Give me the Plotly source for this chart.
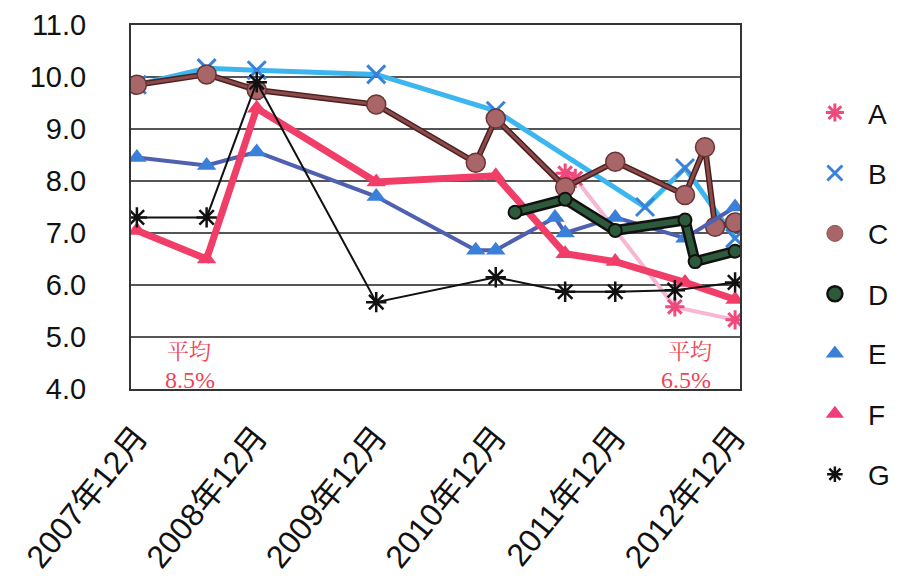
import plotly.graph_objects as go

# ---- data ----
tick_dates = ["2007-12-31", "2008-12-31", "2009-12-31", "2010-12-31", "2011-12-31", "2012-12-31"]
tick_labels = ["2007年12月", "2008年12月", "2009年12月", "2010年12月", "2011年12月", "2012年12月"]

a_x = ["2011-07-31", "2011-08-31", "2012-06-30", "2012-12-31"]
a_y = [8.15, 8.05, 5.58, 5.33]

b_x = ["2007-12-31", "2008-07-31", "2008-12-31", "2009-12-31", "2010-12-31", "2012-03-31", "2012-07-31", "2012-12-31"]
b_y = [9.85, 10.17, 10.13, 10.05, 9.35, 7.5, 8.25, 6.9]

c_x = ["2007-12-31", "2008-07-31", "2008-12-31", "2009-12-31", "2010-10-31", "2010-12-31",
       "2011-07-31", "2011-12-31", "2012-07-31", "2012-09-30", "2012-10-31", "2012-12-31"]
c_y = [9.85, 10.05, 9.75, 9.47, 8.35, 9.2, 7.88, 8.37, 7.73, 8.65, 7.12, 7.2]

d_x = ["2011-02-28", "2011-07-31", "2011-12-31", "2012-07-31", "2012-08-31", "2012-12-31"]
d_y = [7.4, 7.65, 7.05, 7.25, 6.45, 6.65]

e_x = ["2007-12-31", "2008-07-31", "2008-12-31", "2009-12-31", "2010-10-31", "2010-12-31",
       "2011-06-30", "2011-07-31", "2011-12-31", "2012-07-31", "2012-12-31"]
e_y = [8.45, 8.3, 8.56, 7.7, 6.67, 6.67, 7.3, 7.0, 7.3, 6.9, 7.5]

f_x = ["2007-12-31", "2008-07-31", "2008-12-31", "2009-12-31", "2010-12-31", "2011-07-31",
       "2011-12-31", "2012-07-31", "2012-12-31"]
f_y = [7.05, 6.5, 9.4, 7.98, 8.1, 6.6, 6.45, 6.05, 5.72]

g_x = ["2007-12-31", "2008-07-31", "2008-12-31", "2009-12-31", "2010-12-31", "2011-07-31",
       "2011-12-31", "2012-06-30", "2012-12-31"]
g_y = [7.3, 7.3, 9.9, 5.67, 6.15, 5.87, 5.87, 5.9, 6.05]

series_names = ["A", "B", "C", "D", "E", "F", "G"]

fig = go.Figure()

# ---- series (lines + markers, legend shown via marker-only entries below) ----
fig.add_trace(go.Scatter(x=a_x, y=a_y, mode="lines+markers", showlegend=False,
                         line=dict(color="#f7b6d2", width=4),
                         marker=dict(symbol="asterisk-open", size=16, color="#f04a7c",
                                     line=dict(color="#f04a7c", width=3))))
fig.add_trace(go.Scatter(x=b_x, y=b_y, mode="lines+markers", showlegend=False,
                         line=dict(color="#3db6f0", width=5),
                         marker=dict(symbol="x-thin-open", size=18, color="#3a82d8",
                                     line=dict(color="#3a82d8", width=3))))
fig.add_trace(go.Scatter(x=c_x, y=c_y, mode="lines", showlegend=False,
                         line=dict(color="#4a2020", width=6)))
fig.add_trace(go.Scatter(x=c_x, y=c_y, mode="lines+markers", showlegend=False,
                         line=dict(color="#8c4a4a", width=3),
                         marker=dict(symbol="circle", size=19, color="#a86668",
                                     line=dict(color="#6a3434", width=1.5))))
fig.add_trace(go.Scatter(x=e_x, y=e_y, mode="lines+markers", showlegend=False,
                         line=dict(color="#5060b0", width=4),
                         marker=dict(symbol="triangle-up", size=17, color="#3a80d8")))
fig.add_trace(go.Scatter(x=f_x, y=f_y, mode="lines+markers", showlegend=False,
                         line=dict(color="#f03e68", width=7),
                         marker=dict(symbol="triangle-up", size=17, color="#f03e68")))
fig.add_trace(go.Scatter(x=d_x, y=d_y, mode="lines", showlegend=False,
                         line=dict(color="#111111", width=11)))
fig.add_trace(go.Scatter(x=d_x, y=d_y, mode="lines+markers", showlegend=False,
                         line=dict(color="#2e5a3c", width=6),
                         marker=dict(symbol="circle", size=13, color="#2e5a3c",
                                     line=dict(color="#111111", width=2))))
fig.add_trace(go.Scatter(x=g_x, y=g_y, mode="lines+markers", showlegend=False,
                         line=dict(color="#111111", width=2),
                         marker=dict(symbol="asterisk-open", size=17, color="#111111",
                                     line=dict(color="#111111", width=2.5))))

# ---- legend entries (markers only), split over two legends ----
legend_markers = [
    dict(symbol="asterisk-open", size=15, color="#f04a7c", line=dict(color="#f04a7c", width=3)),
    dict(symbol="x-thin-open", size=15, color="#3a82d8", line=dict(color="#3a82d8", width=3)),
    dict(symbol="circle", size=16, color="#a86668", line=dict(color="#8a5050", width=1)),
    dict(symbol="circle", size=15, color="#2e5a3c", line=dict(color="#111111", width=2.5)),
    dict(symbol="triangle-up", size=16, color="#3a80d8"),
    dict(symbol="triangle-up", size=16, color="#f03e7a"),
    dict(symbol="asterisk-open", size=13, color="#111111", line=dict(color="#111111", width=2.5)),
]
legend_ids = ["legend", "legend", "legend", "legend", "legend2", "legend2", "legend2"]
for name, mk, lid in zip(series_names, legend_markers, legend_ids):
    fig.add_trace(go.Scatter(x=[None], y=[None], mode="markers", name=name,
                             legendgroup=name, legend=lid, marker=mk))

red = "#ec4656"
fig.add_annotation(xref="paper", yref="y", x=0.056, y=4.76, text="平均", showarrow=False,
                   font=dict(family="Noto Serif CJK JP, Noto Sans CJK JP", size=22, color=red))
fig.add_annotation(xref="paper", yref="y", x=0.052, y=4.17, text="8.5%", showarrow=False,
                   font=dict(family="Liberation Serif", size=24, color=red))
fig.add_annotation(xref="paper", yref="y", x=0.958, y=4.76, text="平均", showarrow=False,
                   font=dict(family="Noto Serif CJK JP, Noto Sans CJK JP", size=22, color=red))
fig.add_annotation(xref="paper", yref="y", x=0.955, y=4.17, text="6.5%", showarrow=False,
                   font=dict(family="Liberation Serif", size=24, color=red))

legend_common = dict(xref="container", yref="container", xanchor="left", yanchor="top",
                     font=dict(size=28, family="Liberation Sans", color="#111111"),
                     traceorder="grouped", tracegroupgap=21, itemwidth=56,
                     bgcolor="rgba(0,0,0,0)")

fig.update_layout(
    width=902, height=586,
    margin=dict(l=131, r=162, t=25, b=197),
    paper_bgcolor="white", plot_bgcolor="white",
    font=dict(family="Liberation Sans, Noto Sans CJK JP", color="#111111"),
    legend=dict(x=0.889, y=0.850, **legend_common),
    legend2=dict(x=0.889, y=0.439, **legend_common),
    xaxis=dict(type="date", range=["2007-12-13", "2013-01-15"],
               tickvals=tick_dates, ticktext=tick_labels, tickangle=-51,
               tickfont=dict(size=32, family="Liberation Sans, Noto Sans CJK JP"),
               showgrid=False, showline=True, linecolor="#333333", linewidth=2,
               mirror=True, ticks="", zeroline=False, ticklabelstandoff=14,
               automargin=False),
    yaxis=dict(range=[4, 11], dtick=1, tickformat=".1f",
               tickfont=dict(size=29, family="Liberation Sans"),
               showgrid=True, gridcolor="#555555", gridwidth=1.5,
               showline=True, linecolor="#333333", linewidth=2, mirror=True,
               ticks="", ticklabelstandoff=37, zeroline=False, automargin=False),
)

fig.write_html("out.html",
               config={"displayModeBar": False},
               post_script="document.body.style.margin='0';document.body.style.overflow='hidden';")
